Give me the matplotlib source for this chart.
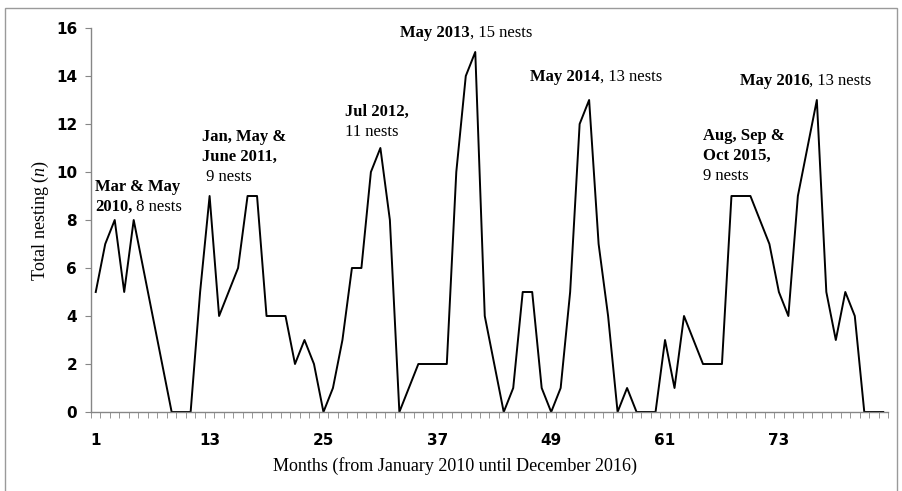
#!/usr/bin/env python
# monthly nesting counts, Jan 2010 - Dec 2016, line chart with peak labels

import matplotlib
matplotlib.use("Agg")
from matplotlib import pyplot as plt
from matplotlib.patches import Rectangle

months = list(range(1, 85))
nests = [5, 7, 8, 5, 8, 6, 4, 2, 0, 0, 0, 5,      # 2010
         9, 4, 5, 6, 9, 9, 4, 4, 4, 2, 3, 2,      # 2011
         0, 1, 3, 6, 6, 10, 11, 8, 0, 1, 2, 2,    # 2012
         2, 2, 10, 14, 15, 4, 2, 0, 1, 5, 5, 1,   # 2013
         0, 1, 5, 12, 13, 7, 4, 0, 1, 0, 0, 0,    # 2014
         3, 1, 4, 3, 2, 2, 2, 9, 9, 9, 8, 7,      # 2015
         5, 4, 9, 11, 13, 5, 3, 5, 4, 0, 0, 0]    # 2016
tick_months = [1, 13, 25, 37, 49, 61, 73]

# peak labels: (x, y, [(bold part, normal part), ...])
peaks = [
    (0.92, 9.38, [("Mar & May", ""), ("2010,", " 8 nests")]),
    (12.17, 11.47, [("Jan, May &", ""), ("June 2011,", ""), ("", " 9 nests")]),
    (27.27, 12.51, [("Jul 2012,", ""), ("", "11 nests")]),
    (33.06, 15.79, [("May 2013", ", 15 nests")]),
    (46.76, 13.96, [("May 2014", ", 13 nests")]),
    (64.96, 11.5, [("Aug, Sep &", ""), ("Oct 2015,", ""), ("", "9 nests")]),
    (68.86, 13.8, [("May 2016", ", 13 nests")]),
]

plt.rcParams['mathtext.fontset'] = 'custom'
plt.rcParams['mathtext.rm'] = 'Liberation Serif'
plt.rcParams['mathtext.it'] = 'Liberation Serif:italic'

fig = plt.figure(figsize=(9.02, 4.91), dpi=100)
ax = fig.add_axes([91/902, 1 - 412/491, 797/902, 384/491])

grey = '#868686'
ax.plot(months, nests, color='black', lw=1.4)

ax.set_xlim(0.5, 84.5)
ax.set_ylim(0, 16)
ax.set_yticks(range(0, 17, 2))
ax.set_xticks(tick_months)
ax.set_xticks([m - 0.5 for m in months] + [84.5], minor=True)

for s in ['top', 'right']:
    ax.spines[s].set_visible(False)
for s in ['left', 'bottom']:
    ax.spines[s].set_color(grey)
    ax.spines[s].set_linewidth(1)

ax.tick_params(axis='y', which='major', direction='out', length=4, color=grey,
               pad=6, labelsize=11)
ax.tick_params(axis='x', which='major', length=0, pad=15, labelsize=11)
ax.tick_params(axis='x', which='minor', direction='out', length=4, color=grey)
for lab in ax.get_xticklabels() + ax.get_yticklabels():
    lab.set_fontweight('bold')

serif = 'Liberation Serif'
ax.text(38.86, -2.25, "Months (from January 2010 until December 2016)",
        family=serif, fontsize=13, ha='center', va='center', clip_on=False)
ax.text(-0.064, 0.5, "Total nesting ($n$)", transform=ax.transAxes,
        family=serif, fontsize=13, rotation=90, ha='center', va='center')

# now the peak labels, bold part first then the normal part after it
for x, y, lines in peaks:
    for i, (b, r) in enumerate(lines):
        if b:
            t = ax.annotate(b, (x, y), xytext=(0, -i * 14.4), textcoords='offset points',
                            family=serif, fontsize=12, fontweight='bold',
                            ha='left', va='center', annotation_clip=False)
            if r:
                ax.annotate(r, xy=(1, 0.5), xycoords=t, family=serif, fontsize=12,
                            ha='left', va='center', annotation_clip=False)
        else:
            ax.annotate(r, (x, y), xytext=(0, -i * 14.4), textcoords='offset points',
                        family=serif, fontsize=12, ha='left', va='center',
                        annotation_clip=False)

# thin frame round the whole picture
fig.patches.append(Rectangle((5/902, -0.02), 892/902, 1.02 - 8/491,
                             transform=fig.transFigure, fill=False,
                             edgecolor='#9a9a9a', lw=1))

fig.savefig("out.png", dpi=100)
